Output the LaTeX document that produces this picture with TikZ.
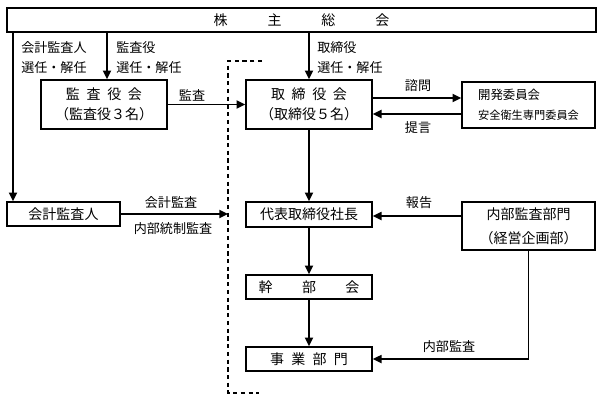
\documentclass[tikz,border=0pt]{standalone}
\usepackage{fontspec}
\setmainfont{Noto Sans CJK JP}
\usetikzlibrary{arrows.meta}
\begin{document}
\begin{tikzpicture}[x=0.75pt,y=-0.75pt,
 box/.style={draw,line width=1.25pt,inner sep=0pt,align=center,font=\fontsize{10.5}{15}\selectfont},
 arr/.style={line width=1.3pt,-{Triangle[length=6.5pt,width=6pt]}},
 lbl/.style={inner sep=0pt,font=\fontsize{9.8}{12}\selectfont},
 dline/.style={line width=1.1pt,dash pattern=on 3.2pt off 2.6pt}]
\useasboundingbox (0,0) rectangle (603,401);
% boxes
\node[box,minimum width=441.75pt,minimum height=18pt] (top) at (301.5,20) {株\hspace{30pt}主\hspace{30pt}総\hspace{30pt}会};
\node[box,minimum width=94.5pt,minimum height=36.75pt] (kansa) at (104,104.5) {監\hspace{5pt}査\hspace{5pt}役\hspace{5pt}会\\（監査役３名）};
\node[box,minimum width=94.5pt,minimum height=36.75pt] (tori) at (309,104.5) {取\hspace{5pt}締\hspace{5pt}役\hspace{5pt}会\\（取締役５名）};
\node[box,minimum width=99.75pt,minimum height=34.5pt,align=left] (kaihatsu) at (528.5,105) {{\fontsize{9.3}{15}\selectfont 開発委員会}\\{\fontsize{8.4}{15}\selectfont 安全衛生専門委員会}};
\node[box,minimum width=84.75pt,minimum height=18pt] (kaikei) at (63.5,214) {会計監査人};
\node[box,minimum width=94.5pt,minimum height=18.75pt] (daihyo) at (309,214.5) {代表取締役社長};
\node[box,minimum width=99.75pt,minimum height=36pt,font=\fontsize{10.5}{18}\selectfont] (naibu) at (528.5,226) {内部監査部門\\（経営企画部）};
\node[box,minimum width=94.5pt,minimum height=18pt] (kanbu) at (309,287) {幹\hspace{22pt}部\hspace{22pt}会};
\node[box,minimum width=94.5pt,minimum height=18pt] (jigyo) at (309,359) {事\hspace{5.5pt}業\hspace{5.5pt}部\hspace{5.5pt}門};
% helper coordinates
\coordinate (xa) at (13,0);
\coordinate (xb) at (107,0);
\coordinate (xd) at (228,0);
\coordinate (k1) at (0,98);
\coordinate (k2) at (0,114);
\coordinate (k3) at (0,216);
% dashed boundary
\coordinate (d1) at (262,61);
\coordinate (d2) at (228,61);
\coordinate (d3) at (228,393);
\coordinate (d4) at (259,393);
\draw[dline] (d1) -- (d2) -- (d3) -- (d4);
% connectors
\draw[arr] (top.south -| xa) -- (kaikei.north -| xa);
\draw[arr] (top.south -| xb) -- (kansa.north -| xb);
\draw[arr] (top.south -| tori.north) -- (tori.north);
\draw[arr] (kansa.east) -- (tori.west);
\draw[arr] (tori.east |- k1) -- (kaihatsu.west |- k1);
\draw[arr] (kaihatsu.west |- k2) -- (tori.east |- k2);
\draw[arr] (tori.south) -- (daihyo.north);
\draw[arr] (kaikei.east) -- (kaikei.east -| xd);
\draw[arr] (naibu.west |- k3) -- (daihyo.east |- k3);
\draw[arr] (daihyo.south) -- (kanbu.north);
\draw[arr] (kanbu.south) -- (jigyo.north);
\draw[arr] (naibu.south) |- (jigyo.east);
% labels
\node[lbl,anchor=west] (l1) at (21,48) {会計監査人};
\node[lbl,anchor=west] (l2) at (21,68) {選任・解任};
\node[lbl,anchor=west] (l3) at (116,48) {監査役};
\node[lbl,anchor=west] (l4) at (116,68) {選任・解任};
\node[lbl,anchor=west] (l5) at (317,48) {取締役};
\node[lbl,anchor=west] (l6) at (317,68) {選任・解任};
\node[lbl] (l7) at (192,95) {監査};
\node[lbl] (l8) at (418,86) {諮問};
\node[lbl] (l9) at (418,128) {提言};
\node[lbl] (l10) at (171,203) {会計監査};
\node[lbl] (l11) at (173,229) {内部統制監査};
\node[lbl] (l12) at (419,203) {報告};
\node[lbl] (l13) at (449,347) {内部監査};
\end{tikzpicture}
\end{document}
